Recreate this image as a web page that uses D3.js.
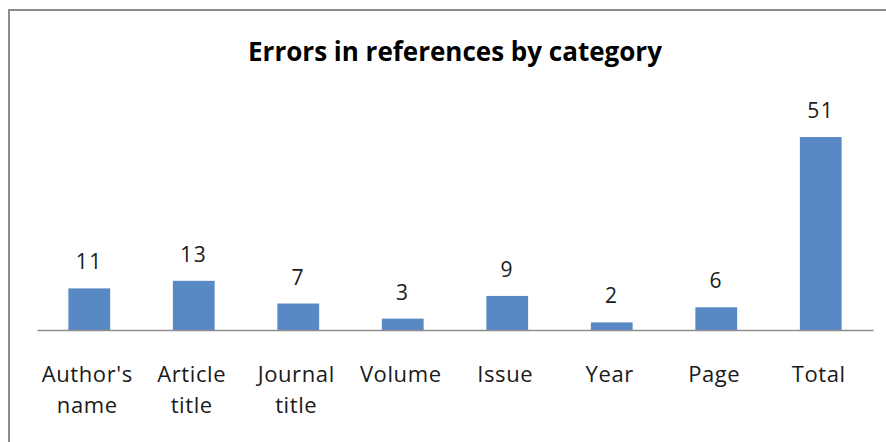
<!DOCTYPE html>
<html>
<head>
<meta charset="utf-8">
<script src="https://cdn.jsdelivr.net/npm/d3@7"></script>
<style>
  body { margin: 0; background: #fff; }
  text { font-family: "Open Sans", Lato, sans-serif; fill: #1a1a1a; }
</style>
</head>
<body>
<div id="chart"></div>
<script>
// Data
//-----
var categories = ["Author's name", "Article title", "Journal title", "Volume", "Issue", "Year", "Page", "Total"];
var errorCounts = [11, 13, 7, 3, 9, 2, 6, 51];
var chartTitle = "Errors in references by category";

// Sizing parameters
//------------------
var svgWidth = 886;
var svgHeight = 442;

var margin = { left: 37, right: 13, top: 103, baseline: 330 };

var svg = d3.select("#chart")
  .append("svg")
  .attr("width", svgWidth)
  .attr("height", svgHeight);

// chart frame (only top and left edges visible in the crop)
svg.append("path")
  .attr("d", `M9,${svgHeight} V10 H${svgWidth}`)
  .attr("fill", "none")
  .attr("stroke", "#8c8c8c")
  .attr("stroke-width", 2);

// Scales
var xScale = d3.scaleBand()
  .domain(categories)
  .range([margin.left, svgWidth - margin.right])
  .paddingInner(0.6)
  .paddingOuter(0.3);

var yScale = d3.scaleLinear()
  .domain([0, 60])
  .range([margin.baseline, margin.top]);

var data = categories.map((c, i) => ({ name: c, value: errorCounts[i] }));

// title
svg.append("text")
  .attr("x", 455)
  .attr("y", 61)
  .attr("text-anchor", "middle")
  .attr("font-size", 26)
  .attr("font-weight", "bold")
  .style("fill", "#000")
  .text(chartTitle);

// bars
svg.append("g")
  .selectAll("rect")
  .data(data)
  .enter()
  .append("rect")
  .attr("x", d => xScale(d.name))
  .attr("y", d => yScale(d.value))
  .attr("width", xScale.bandwidth())
  .attr("height", d => yScale(0) - yScale(d.value))
  .attr("fill", "#5889c4");

// x axis
var xAxis = svg.append("g")
  .attr("transform", `translate(0, ${yScale(0)})`)
  .call(d3.axisBottom(xScale).tickSize(0).tickFormat(""));
xAxis.select(".domain")
  .attr("stroke", "#8e8e8e")
  .attr("stroke-width", 1.5);

// category labels, wrapped on the space
var labels = svg.append("g")
  .selectAll("text")
  .data(data)
  .enter()
  .append("text")
  .attr("y", 382)
  .attr("text-anchor", "middle")
  .attr("font-size", 22)
  .attr("letter-spacing", 0.6);

labels.each(function(d) {
  var words = d.name.split(" ");
  var t = d3.select(this);
  words.forEach((w, i) => {
    t.append("tspan")
      .attr("x", xScale(d.name) + xScale.bandwidth() / 2 - 2)
      .attr("dy", i == 0 ? 0 : 31)
      .text(w);
  });
});

// value labels
svg.append("g")
  .selectAll("text")
  .data(data)
  .enter()
  .append("text")
  .attr("x", d => xScale(d.name) + xScale.bandwidth() / 2)
  .attr("y", d => yScale(d.value) - 19)
  .attr("text-anchor", "middle")
  .attr("font-size", 21)
  .attr("letter-spacing", 1.5)
  .text(d => d.value);
</script>
</body>
</html>
